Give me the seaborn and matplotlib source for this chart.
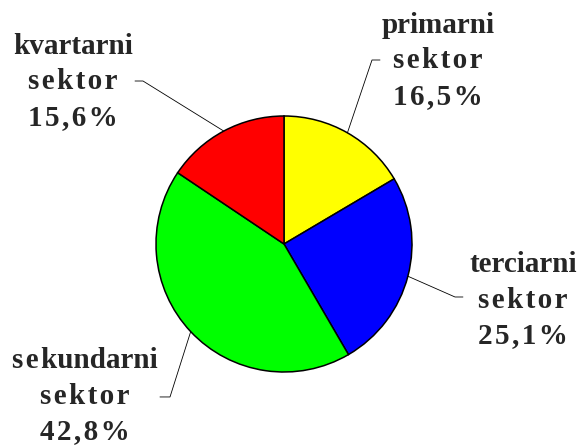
import numpy as np
import matplotlib
matplotlib.use("Agg")
import matplotlib.pyplot as plt
import seaborn as sns

# data
sectors = ["primarni", "terciarni", "sekundarni", "kvartarni"]
shares = [16.5, 25.1, 42.8, 15.6]
colors = ["#FFFF00", "#0000FF", "#00FF00", "#FF0000"]

sns.set_theme(style="white")
plt.rcParams['font.family'] = ['Liberation Serif', 'DejaVu Serif']

HS = "\u200a"  # hair space, mimics the letter spacing


def spaced(s):
    return HS.join(s)


def label_text(name, val):
    pct = f"{val:.1f}".replace(".", ",") + "%"
    return f"{name}\n{spaced('sektor')}\n{spaced(pct)}"


fig = plt.figure(figsize=(5.81, 4.47), dpi=100)
cx, cy, r = 284, 244, 128
ax = fig.add_axes([(cx - r) / 581, (447 - cy - r) / 447, 2 * r / 581, 2 * r / 447])
wedges, _ = ax.pie(shares, colors=colors, startangle=90, counterclock=False,
                   wedgeprops=dict(edgecolor="black", linewidth=1.1))
ax.set_xlim(-1, 1)
ax.set_ylim(-1, 1)
ax.set_aspect("equal")
ax.axis("off")

# leader layout: elbow point, end point, text centre (pie radius units)
layout = {
    "primarni": ((0.6875, 1.4375), (0.75, 1.4375), (1.203, 1.43)),
    "terciarni": ((1.336, -0.414), (1.398, -0.414), (1.867, -0.4375)),
    "sekundarni": ((-0.8906, -1.195), (-0.969, -1.195), (-1.555, -1.19)),
    "kvartarni": ((-1.1016, 1.2734), (-1.164, 1.2734), (-1.648, 1.266)),
}

for w, name, val in zip(wedges, sectors, shares):
    ang = np.deg2rad((w.theta1 + w.theta2) / 2)
    ax0, ay0 = np.cos(ang), np.sin(ang)
    elbow, end, tpos = layout[name]
    ax.plot([ax0, elbow[0], end[0]], [ay0, elbow[1], end[1]],
            color="black", lw=0.6, clip_on=False)
    shown = spaced("sek") + "undarni" if name == "sekundarni" else name
    ax.text(tpos[0], tpos[1], label_text(shown, val), ha="center", va="center",
            fontsize=21, fontweight="bold", linespacing=1.4, clip_on=False)

fig.savefig("out.png", dpi=100)
